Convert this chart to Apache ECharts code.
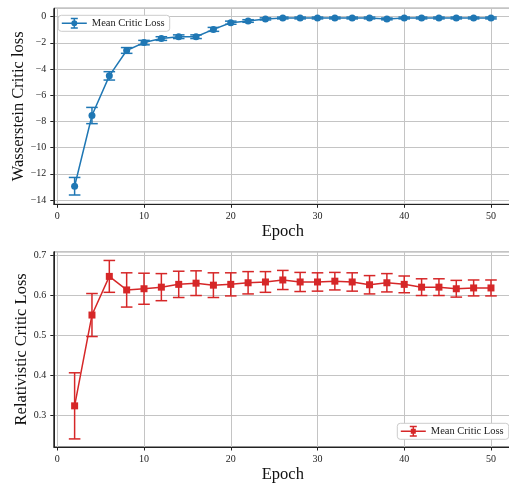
<!DOCTYPE html>
<html><head><meta charset="utf-8">
<script src="https://cdn.jsdelivr.net/npm/echarts@6/dist/echarts.min.js"></script>
<style>html,body{margin:0;padding:0;background:#fff}#c{width:509px;height:483px}</style>
</head><body><div id="c"></div>
<script>
const epochs = [2,4,6,8,10,12,14,16,18,20,22,24,26,28,30,32,34,36,38,40,42,44,46,48,50];
const wassMean = [-12.95,-7.55,-4.52,-2.58,-1.98,-1.67,-1.53,-1.53,-0.97,-0.46,-0.33,-0.17,-0.1,-0.1,-0.1,-0.1,-0.1,-0.1,-0.17,-0.1,-0.1,-0.1,-0.1,-0.1,-0.1];
const wassErr = [0.67,0.62,0.32,0.22,0.17,0.14,0.14,0.14,0.15,0.12,0.1,0.08,0.07,0.07,0.07,0.07,0.07,0.07,0.07,0.07,0.07,0.07,0.07,0.07,0.07];
const relMean = [0.323,0.551,0.648,0.614,0.617,0.621,0.628,0.631,0.626,0.628,0.632,0.634,0.639,0.634,0.634,0.636,0.634,0.627,0.632,0.628,0.621,0.621,0.617,0.619,0.619];
const relErr = [0.083,0.054,0.040,0.043,0.039,0.034,0.033,0.031,0.031,0.029,0.028,0.026,0.024,0.024,0.023,0.022,0.023,0.023,0.023,0.021,0.021,0.021,0.021,0.020,0.020];
const xTicks = [0,10,20,30,40,50];
const legendLabel = 'Mean Critic Loss';
const yName1 = 'Wasserstein Critic loss';
const yName2 = 'Relativistic Critic Loss';
const xName = 'Epoch';

const BLUE = '#1f77b4', RED = '#d62728';
const FONT = 'Liberation Serif, Times New Roman, serif';
const chart = echarts.init(document.getElementById('c'), null, {renderer:'canvas'});

function errData(mean, err){ return epochs.map((e,i)=>[e, mean[i]-err[i], mean[i]+err[i]]); }
function errSeries(idx, data, color){
  return {type:'custom', xAxisIndex:idx, yAxisIndex:idx, data:data, z:2, silent:true,
    renderItem:function(params, api){
      const x = api.value(0);
      const lo = api.coord([x, api.value(1)]);
      const hi = api.coord([x, api.value(2)]);
      const cw = 5.8;
      const st = {stroke:color, lineWidth:1.5};
      return {type:'group', children:[
        {type:'line', shape:{x1:lo[0],y1:lo[1],x2:hi[0],y2:hi[1]}, style:st},
        {type:'line', shape:{x1:lo[0]-cw,y1:lo[1],x2:lo[0]+cw,y2:lo[1]}, style:st},
        {type:'line', shape:{x1:hi[0]-cw,y1:hi[1],x2:hi[0]+cw,y2:hi[1]}, style:st}
      ]};
    }};
}
const base = 'M0,4.75 H25 V6.25 H0 Z M11.75,0.75 H13.25 V10.25 H11.75 Z M9,0 H16 V1.5 H9 Z M9,9.5 H16 V11 H9 Z ';
const iconCircle = 'path://' + base + 'M9.5,5.5 A3,3 0 1,1 15.5,5.5 A3,3 0 1,1 9.5,5.5 Z';
const iconSquare = 'path://' + base + 'M10,3 H15 V8 H10 Z';

function fmtTick(v){ return String(+v.toFixed(4)).replace('-', '\u2212'); }
function xAxis(idx){
  return {type:'value', gridIndex:idx, min:-0.4, max:52.4, splitNumber:5,
    name:xName, nameLocation:'middle', nameGap:19, nameMoveOverlap:false,
    nameTextStyle:{fontFamily:FONT, fontSize:16.5, color:'#111'},
    axisLine:{show:true, onZero:false, lineStyle:{color:'#222', width:1}},
    axisTick:{show:true, length:3.5, lineStyle:{color:'#222'}},
    axisLabel:{fontFamily:FONT, fontSize:10, color:'#222', margin:7, showMinLabel:false, showMaxLabel:false,
      formatter:function(v){ return xTicks.indexOf(Math.round(v))>=0 && Math.abs(v-Math.round(v))<1e-6 ? fmtTick(v) : ''; }},
    splitLine:{show:true, lineStyle:{color:'#c4c4c4', width:1}}};
}
function yAxis(idx, min, max, splitNumber, name, gap){
  return {type:'value', gridIndex:idx, min:min, max:max, splitNumber:splitNumber,
    name:name, nameLocation:'middle', nameGap:gap, nameMoveOverlap:false,
    nameTextStyle:{fontFamily:FONT, fontSize:16.5, color:'#111'},
    axisLine:{show:true, onZero:false, lineStyle:{color:'#222', width:1}},
    axisTick:{show:true, length:3.5, lineStyle:{color:'#222'}},
    axisLabel:{fontFamily:FONT, fontSize:10, color:'#222', margin:7.5, showMinLabel:false, showMaxLabel:false, formatter:fmtTick},
    splitLine:{show:true, lineStyle:{color:'#c4c4c4', width:1}}};
}
function legend(left, top, icon, color){
  return {left:left, top:top, orient:'vertical', padding:[2.5,5,2.5,3.5], itemWidth:25, itemHeight:11, itemGap:0,
    backgroundColor:'#fff', borderColor:'#ccc', borderWidth:1, borderRadius:3,
    textStyle:{fontFamily:FONT, fontSize:10.5, color:'#222'}, selectedMode:false,
    data:[{name:legendLabel, icon:icon, itemStyle:{color:color}}]};
}

chart.setOption({
  animation:false,
  backgroundColor:'#fff',
  grid:[
    {left:53.8, top:8.3, width:458, height:196, show:true, borderColor:'#222', borderWidth:1, outerBoundsMode:'none', containLabel:false},
    {left:53.8, top:251.7, width:458, height:195.3, show:true, borderColor:'#222', borderWidth:1, outerBoundsMode:'none', containLabel:false}
  ],
  xAxis:[xAxis(0), xAxis(1)],
  yAxis:[yAxis(0, -14.33, 0.64, 7, yName1, 27), yAxis(1, 0.2197, 0.710, 5, yName2, 24)],
  legend:[legend(58.3, 15.3, iconCircle, BLUE), legend(397.3, 423.3, iconSquare, RED)],
  series:[
    errSeries(0, errData(wassMean, wassErr), BLUE),
    {name:legendLabel, type:'line', xAxisIndex:0, yAxisIndex:0, z:3,
     data:epochs.map((e,i)=>[e, wassMean[i]]), symbol:'circle', symbolSize:7, showSymbol:true,
     lineStyle:{color:BLUE, width:1.5}, itemStyle:{color:BLUE}},
    errSeries(1, errData(relMean, relErr), RED),
    {name:legendLabel, type:'line', xAxisIndex:1, yAxisIndex:1, z:3,
     data:epochs.map((e,i)=>[e, relMean[i]]), symbol:'rect', symbolSize:7, showSymbol:true,
     lineStyle:{color:RED, width:1.5}, itemStyle:{color:RED}}
  ]
});
</script></body></html>
